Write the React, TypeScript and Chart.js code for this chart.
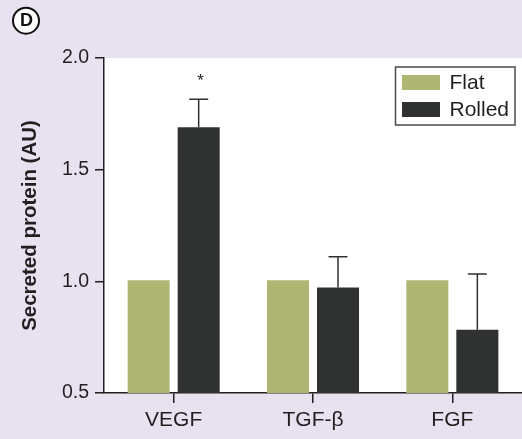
import { useEffect, useRef } from "react";
import { Chart, registerables } from "chart.js";

Chart.register(...registerables);

const categories = ["VEGF", "TGF-β", "FGF"];
const seriesNames = ["Flat", "Rolled"];
const flatValues = [1.005, 1.005, 1.005];
const rolledValues = [1.69, 0.972, 0.783];
const flatErrors = [0, 0, 0];
const rolledErrors = [0.125, 0.138, 0.25];
const rolledSignificance = ["*", "", ""];
const yMin = 0.5;
const yMax = 2.0;
const yStep = 0.5;
const yTitle = "Secreted protein (AU)";
const panelLabel = "D";

const FONT = "'Liberation Sans', Arial, Helvetica, sans-serif";
const BG = "#e8e2f0";
const FLAT_COLOR = "#afb673";
const ROLLED_COLOR = "#2f3231";
const INK = "#231f20";

export default function App() {
  const ref = useRef<HTMLCanvasElement | null>(null);

  useEffect(() => {
    const canvas = ref.current;
    if (!canvas) return;
    const errorsBySet = [flatErrors, rolledErrors];
    const sigBySet = [["", "", ""], rolledSignificance];

    const decor = {
      id: "decor",
      beforeDraw(chart: any) {
        const { ctx, chartArea } = chart;
        ctx.save();
        ctx.fillStyle = BG;
        ctx.fillRect(0, 0, chart.width, chart.height);
        ctx.fillStyle = "#ffffff";
        ctx.fillRect(
          chartArea.left,
          chartArea.top,
          chartArea.right - chartArea.left,
          chartArea.bottom - chartArea.top
        );
        ctx.restore();
      },
      afterDatasetsDraw(chart: any) {
        const { ctx } = chart;
        const yScale = chart.scales.y;
        ctx.save();
        chart.data.datasets.forEach((ds: any, di: number) => {
          const meta = chart.getDatasetMeta(di);
          meta.data.forEach((bar: any, i: number) => {
            const err = errorsBySet[di][i];
            const v = ds.data[i];
            let topY = yScale.getPixelForValue(v);
            if (err > 0) {
              topY = yScale.getPixelForValue(v + err);
              ctx.strokeStyle = ROLLED_COLOR;
              ctx.lineWidth = 1.5;
              ctx.beginPath();
              ctx.moveTo(bar.x, bar.y);
              ctx.lineTo(bar.x, topY);
              ctx.moveTo(bar.x - 9.5, topY);
              ctx.lineTo(bar.x + 9.5, topY);
              ctx.stroke();
            }
            const sig = sigBySet[di][i];
            if (sig) {
              ctx.fillStyle = INK;
              ctx.font = `17px ${FONT}`;
              ctx.textAlign = "center";
              ctx.textBaseline = "alphabetic";
              ctx.fillText(sig, bar.x + 2, topY - 13);
            }
          });
        });
        ctx.restore();
      },
      afterDraw(chart: any) {
        const { ctx, chartArea } = chart;
        ctx.save();
        // legend
        const w = 119.5;
        const h = 58;
        const lx = chartArea.right - 126.5;
        const ly = chartArea.top + 9;
        ctx.fillStyle = "#ffffff";
        ctx.fillRect(lx, ly, w, h);
        ctx.strokeStyle = "#4a4a4a";
        ctx.lineWidth = 1.5;
        ctx.strokeRect(lx, ly, w, h);
        chart.data.datasets.forEach((ds: any, di: number) => {
          const sy = ly + 8 + di * 27;
          ctx.fillStyle = ds.backgroundColor;
          ctx.fillRect(lx + 6.5, sy, 38, 15);
          ctx.fillStyle = INK;
          ctx.font = `21px ${FONT}`;
          ctx.textAlign = "left";
          ctx.textBaseline = "middle";
          ctx.fillText(ds.label, lx + 54, sy + 8);
        });
        // panel label
        ctx.beginPath();
        ctx.arc(26, 20.7, 13, 0, Math.PI * 2);
        ctx.fillStyle = "#ffffff";
        ctx.fill();
        ctx.lineWidth = 2;
        ctx.strokeStyle = "#111111";
        ctx.stroke();
        ctx.fillStyle = "#111111";
        ctx.font = `bold 18px ${FONT}`;
        ctx.textAlign = "center";
        ctx.textBaseline = "middle";
        ctx.fillText(panelLabel, 26.5, 21.5);
        ctx.restore();
      },
    };

    const chart = new Chart(canvas, {
      type: "bar",
      data: {
        labels: categories,
        datasets: [
          {
            label: seriesNames[0],
            data: flatValues,
            backgroundColor: FLAT_COLOR,
            borderWidth: 0,
            categoryPercentage: 0.718,
            barPercentage: 0.84,
          },
          {
            label: seriesNames[1],
            data: rolledValues,
            backgroundColor: ROLLED_COLOR,
            borderWidth: 0,
            categoryPercentage: 0.718,
            barPercentage: 0.84,
          },
        ],
      },
      options: {
        responsive: false,
        animation: false,
        layout: { padding: { left: 0, right: 0, top: 58, bottom: 0 } },
        plugins: {
          legend: { display: false },
          tooltip: { enabled: false },
          title: { display: false },
        },
        scales: {
          x: {
            grid: {
              drawOnChartArea: false,
              drawTicks: true,
              tickLength: 10,
              offset: false,
              color: INK,
              lineWidth: 1.5,
            },
            border: { display: true, color: INK, width: 1.5 },
            ticks: {
              color: INK,
              font: { family: FONT, size: 21 },
              padding: 5,
            },
            afterFit(scale: any) {
              scale.height = 46;
            },
          },
          y: {
            min: yMin,
            max: yMax,
            grid: {
              drawOnChartArea: false,
              drawTicks: true,
              tickLength: 9,
              color: INK,
              lineWidth: 1.5,
            },
            border: { display: true, color: INK, width: 1.5 },
            ticks: {
              stepSize: yStep,
              color: INK,
              font: { family: FONT, size: 19.5 },
              padding: 6,
              callback: (v: any) => Number(v).toFixed(1),
            },
            title: {
              display: true,
              text: yTitle,
              color: INK,
              font: { family: FONT, size: 20.5, weight: "bold" },
              padding: { top: 18, bottom: 0 },
            },
            afterFit(scale: any) {
              scale.width = 104;
            },
          },
        },
      },
      plugins: [decor],
    });

    return () => chart.destroy();
  }, []);

  return (
    <div style={{ position: "absolute", left: 0, top: 0, width: 522, height: 439 }}>
      <canvas ref={ref} width={522} height={439} style={{ display: "block" }} />
    </div>
  );
}
